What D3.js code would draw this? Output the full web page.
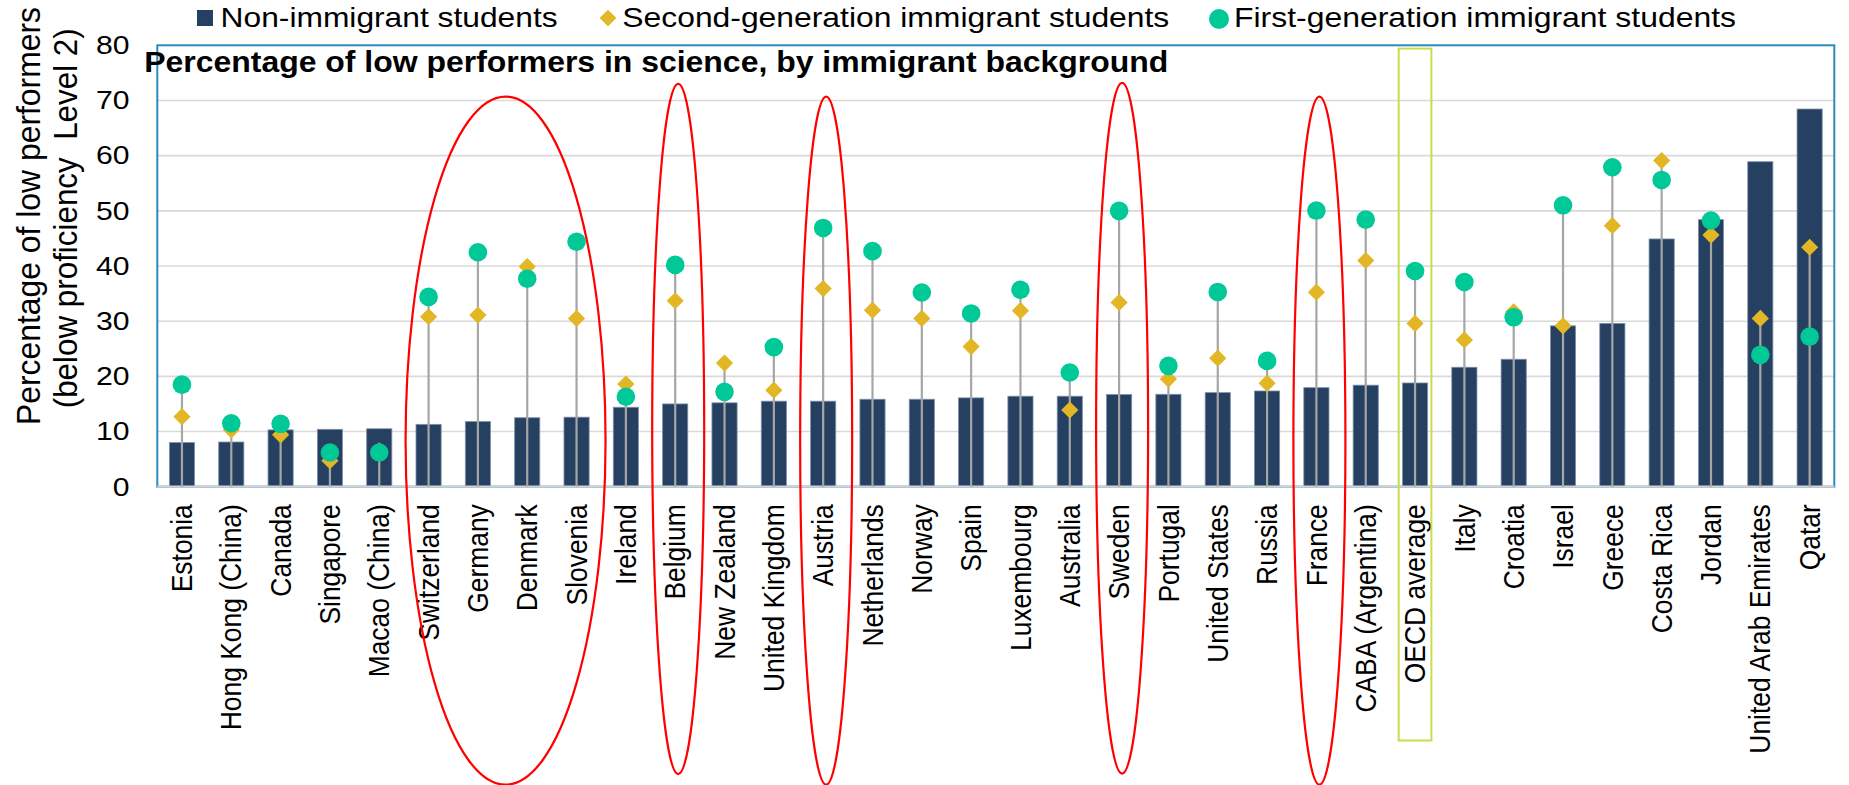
<!DOCTYPE html>
<html><head><meta charset="utf-8">
<script src="https://cdn.jsdelivr.net/npm/d3@7"></script>
<style>
html,body{margin:0;padding:0;background:#fff;}
svg{display:block;font-family:Arial,"Liberation Sans",sans-serif;}
</style></head><body>
<svg id="chart" width="1849" height="785"></svg>
<script>
// ---------------- data ----------------
const categories = ["Estonia","Hong Kong (China)","Canada","Singapore","Macao (China)","Switzerland","Germany","Denmark","Slovenia","Ireland","Belgium","New Zealand","United Kingdom","Austria","Netherlands","Norway","Spain","Luxembourg","Australia","Sweden","Portugal","United States","Russia","France","CABA (Argentina)","OECD average","Italy","Croatia","Israel","Greece","Costa Rica","Jordan","United Arab Emirates","Qatar"];
const nonImmigrant = [8.0,8.1,10.3,10.4,10.5,11.3,11.8,12.5,12.6,14.4,15.0,15.2,15.5,15.5,15.85,15.85,16.1,16.4,16.4,16.7,16.75,17.05,17.35,17.95,18.4,18.8,21.65,23.1,29.15,29.6,44.9,48.4,58.9,68.45];
const secondGen    = [12.7,10.3,9.4,4.7,6.5,30.8,31.1,39.9,30.5,18.6,33.7,22.4,17.5,35.9,32.0,30.5,25.4,31.9,13.9,33.4,19.5,23.3,18.75,35.25,41.0,29.6,26.6,31.7,29.15,47.3,59.1,45.6,30.5,43.4];
const firstGen     = [18.5,11.5,11.4,6.2,6.2,34.4,42.5,37.7,44.4,16.3,40.2,17.2,25.3,46.9,42.7,35.2,31.4,35.7,20.7,50.0,21.9,35.3,22.8,50.05,48.4,39.1,37.1,30.7,51.0,57.9,55.6,48.25,23.9,27.2];
const yTicks = [0,10,20,30,40,50,60,70,80];
const seriesNames = ["Non-immigrant students","Second-generation immigrant students","First-generation immigrant students"];
const chartTitle = "Percentage of low performers in science, by immigrant background";
const yTitleLines = ["Percentage of low performers","(below proficiency  Level 2)"];
// highlight annotations (category ranges, in data units)
const highlightFirst  = ["Switzerland","Belgium","Austria","Sweden","France"];
const highlightLast   = ["Slovenia","Belgium","Austria","Sweden","France"];
const highlightTop    = [70.7,73.0,70.7,73.2,70.7];
const highlightBottom = [-54,-52.1,-54,-52,-54];
const referenceCategory = "OECD average";
const referenceTop = 79.4, referenceBottom = -46;

// ---------------- layout ----------------
const svg = d3.select("#chart");
const plot = {left:157.3, right:1834.3, top:45.3, bottom:486.7};
const C = {bar:"#264061", barEdge:"#7f90aa", stem:"#a6a6a6", diamond:"#e2b624", circle:"#00c896",
           grid:"#d9d9d9", axis:"#cfd2d4", border:"#2b8bbd", red:"#ff0000", ref:"#c9db4f"};

const x = d3.scaleBand().domain(categories).range([plot.left, plot.right]).paddingInner(0.49).paddingOuter(0.245);
const y = d3.scaleLinear().domain([0,80]).range([plot.bottom, plot.top]);
const bw = x.bandwidth();
const cx = c => x(c) + bw/2;

const rows = categories.map((c,i)=>({c, non:nonImmigrant[i], sec:secondGen[i], first:firstGen[i]}));

// gridlines
svg.append("g").selectAll("line").data(yTicks.filter(t=>t>0 && t<80)).join("line")
  .attr("x1",plot.left).attr("x2",plot.right).attr("y1",d=>y(d)).attr("y2",d=>y(d))
  .attr("stroke",C.grid).attr("stroke-width",1.6);

// plot border
svg.append("rect").attr("x",plot.left).attr("y",plot.top)
  .attr("width",plot.right-plot.left).attr("height",plot.bottom-plot.top)
  .attr("fill","none").attr("stroke",C.border).attr("stroke-width",2);

// bars
svg.append("g").selectAll("rect").data(rows).join("rect")
  .attr("x",d=>x(d.c)).attr("width",bw)
  .attr("y",d=>y(d.non)).attr("height",d=>y(0)-y(d.non))
  .attr("fill",C.bar).attr("stroke",C.barEdge).attr("stroke-width",0.8);

// x axis line
svg.append("line").attr("x1",plot.left).attr("x2",plot.right).attr("y1",y(0)).attr("y2",y(0))
  .attr("stroke",C.axis).attr("stroke-width",2.2);

// stems
svg.append("g").selectAll("line").data(rows).join("line")
  .attr("x1",d=>cx(d.c)).attr("x2",d=>cx(d.c))
  .attr("y1",y(0)).attr("y2",d=>y(Math.max(d.sec,d.first)))
  .attr("stroke",C.stem).attr("stroke-width",2.2);

// diamonds
const diamond = d3.symbol().type(d3.symbolSquare).size(148);
svg.append("g").selectAll("path").data(rows).join("path")
  .attr("d",diamond)
  .attr("transform",d=>`translate(${cx(d.c)},${y(d.sec)}) rotate(45)`)
  .attr("fill",C.diamond);

// circles
svg.append("g").selectAll("circle").data(rows).join("circle")
  .attr("cx",d=>cx(d.c)).attr("cy",d=>y(d.first)).attr("r",9.3)
  .attr("fill",C.circle);

// y axis
const yAxis = svg.append("g").attr("transform",`translate(${plot.left},0)`)
  .call(d3.axisLeft(y).tickValues(yTicks).tickSize(0).tickPadding(27.8));
yAxis.select(".domain").remove();
yAxis.selectAll("text").attr("font-size",26).attr("fill","#000")
  .attr("font-family",'Arial,"Liberation Sans",sans-serif')
  .each(function(){ const L=this.getComputedTextLength(); d3.select(this).attr("textLength",L*1.16).attr("lengthAdjust","spacingAndGlyphs"); });

// x axis labels
const xAxis = svg.append("g").attr("transform",`translate(0,${plot.bottom})`)
  .call(d3.axisBottom(x).tickSize(0));
xAxis.select(".domain").remove();
xAxis.selectAll("text").attr("font-size",26.4).attr("fill","#000")
  .attr("font-family",'Arial,"Liberation Sans",sans-serif')
  .attr("x",0).attr("y",0).attr("dy","0.35em")
  .attr("text-anchor","end")
  .attr("transform","translate(0,17.5) rotate(-90) scale(1,1.1)");

// highlight ellipses
svg.append("g").selectAll("ellipse").data(highlightFirst.map((f,i)=>({f,l:highlightLast[i],t:highlightTop[i],b:highlightBottom[i]}))).join("ellipse")
  .attr("cx",d=>(cx(d.f)+cx(d.l))/2+3)
  .attr("cy",d=>(y(d.t)+y(d.b))/2)
  .attr("rx",d=>(cx(d.l)-cx(d.f))/2+26)
  .attr("ry",d=>(y(d.b)-y(d.t))/2)
  .attr("fill","none").attr("stroke",C.red).attr("stroke-width",2.2);

// reference (OECD) rectangle
svg.append("rect")
  .attr("x",x(referenceCategory)-3.8).attr("width",bw+7.6)
  .attr("y",y(referenceTop)).attr("height",y(referenceBottom)-y(referenceTop))
  .attr("fill","none").attr("stroke",C.ref).attr("stroke-width",2);

// title
svg.append("text").attr("x",144.3).attr("y",71.7).attr("font-size",29).attr("font-weight","bold")
  .attr("fill","#000").attr("textLength",1024).attr("lengthAdjust","spacingAndGlyphs").text(chartTitle);

// y axis title
const yt = [{x:39.5,y:216,len:418},{x:77,y:218.3,len:380}];
svg.append("g").selectAll("text").data(yTitleLines).join("text")
  .attr("transform",(d,i)=>`translate(${yt[i].x},${yt[i].y}) rotate(-90) scale(1,1.1)`)
  .attr("text-anchor","middle").attr("font-size",30).attr("fill","#000")
  .style("white-space","pre")
  .attr("textLength",(d,i)=>yt[i].len).attr("lengthAdjust","spacingAndGlyphs")
  .text(d=>d);

// legend
const lg = svg.append("g");
lg.append("rect").attr("x",197).attr("y",10).attr("width",16).attr("height",16).attr("fill",C.bar);
lg.append("path").attr("d",d3.symbol().type(d3.symbolSquare).size(140)).attr("transform","translate(608,18) rotate(45)").attr("fill",C.diamond);
lg.append("circle").attr("cx",1219).attr("cy",19).attr("r",10).attr("fill",C.circle);
const legendText = [{x:220.6,len:337},{x:622.3,len:547},{x:1234,len:502}];
lg.selectAll("text").data(seriesNames).join("text")
  .attr("x",(d,i)=>legendText[i].x).attr("y",27.3).attr("font-size",28).attr("fill","#000")
  .attr("textLength",(d,i)=>legendText[i].len).attr("lengthAdjust","spacingAndGlyphs")
  .text(d=>d);
</script>
</body></html>
